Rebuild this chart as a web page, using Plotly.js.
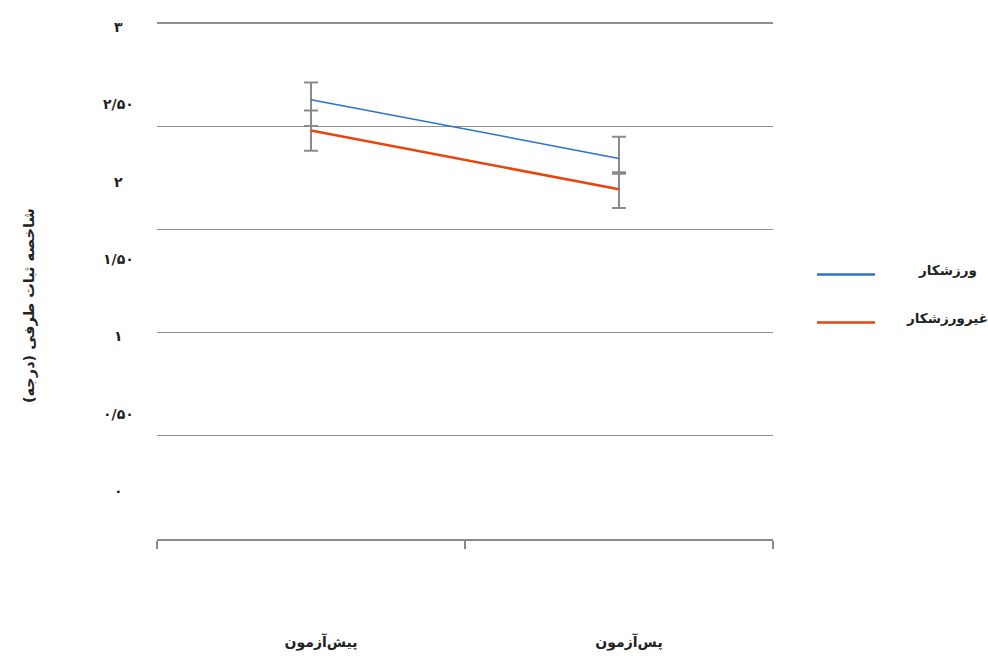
<!DOCTYPE html>
<html>
<head>
<meta charset="utf-8">
<script src="https://cdn.plot.ly/plotly-3.0.1.min.js"></script>
<style>html,body{margin:0;padding:0;background:#fff;}#chart{width:988px;height:656px;}</style>
</head>
<body>
<div id="chart"></div>
<script>
// ---- data ----
var categories = ['پیش\u200cآزمون', 'پس\u200cآزمون'];
var seriesNames = ['ورزشکار', 'غیرورزشکار'];
var athleteValues = [2.53, 2.15];
var athleteErrPlus = [0.11, 0.14];
var athleteErrMinus = [0.17, 0.10];
var nonAthleteValues = [2.33, 1.95];
var nonAthleteErrPlus = [0.13, 0.11];
var nonAthleteErrMinus = [0.13, 0.12];
var yTickValues = [0, 0.5, 1, 1.5, 2, 2.5, 3];
var yTickLabels = ['۰', '۰/۵۰', '۱', '۱/۵۰', '۲', '۲/۵۰', '۳'];
var gridValues = [1, 2, 3, 4, 5];
var yTitle = 'شاخصه ثبات طرفی (درجه)';

var colors = ['#2b72c8', '#e8450e'];
var widths = [1.5, 2.6];
var FONT = 'DejaVu Sans, sans-serif';
var errColor = '#8a8a8a';

function errObj(plus, minus) {
  return {type: 'data', symmetric: false, array: plus, arrayminus: minus,
          color: errColor, thickness: 2, width: 7};
}

var traces = [
  {x: [], y: [], yaxis: 'y2', showlegend: false, hoverinfo: 'skip', type: 'scatter'},
  {x: categories, y: athleteValues, name: seriesNames[0], type: 'scatter', mode: 'lines',
   line: {color: colors[0], width: widths[0]}, error_y: errObj(athleteErrPlus, athleteErrMinus)},
  {x: categories, y: nonAthleteValues, name: seriesNames[1], type: 'scatter', mode: 'lines',
   line: {color: colors[1], width: widths[1]}, error_y: errObj(nonAthleteErrPlus, nonAthleteErrMinus)}
];

var annotations = [];
yTickValues.forEach(function (v, i) {
  annotations.push({xref: 'paper', yref: 'y', x: -0.0633, y: v, text: yTickLabels[i],
    showarrow: false, xanchor: 'center', yanchor: 'middle',
    font: {family: FONT, size: 14, color: '#222', weight: 'bold'}});
});
annotations.push({xref: 'paper', yref: 'paper', x: -0.206, y: 0.4507, text: yTitle,
  textangle: -90, showarrow: false, xanchor: 'center', yanchor: 'middle',
  font: {family: FONT, size: 14.5, color: '#222', weight: 'bold'}});

var legendLineY = [0.5116, 0.4189];
var shapes = [];
seriesNames.forEach(function (n, i) {
  shapes.push({type: 'line', xref: 'paper', yref: 'paper', x0: 1.0714, x1: 1.1656,
    y0: legendLineY[i], y1: legendLineY[i], line: {color: colors[i], width: 2.5}});
  annotations.push({xref: 'paper', yref: 'paper', x: 1.2825, y: legendLineY[i] + 0.008, text: n,
    showarrow: false, xanchor: 'center', yanchor: 'middle',
    font: {family: FONT, size: 13.5, color: '#222', weight: 'bold'}});
});

var layout = {
  width: 988, height: 656,
  margin: {l: 157, r: 215, t: 22, b: 117},
  paper_bgcolor: '#ffffff', plot_bgcolor: '#ffffff',
  showlegend: false,
  font: {family: FONT, size: 14, color: '#222'},
  xaxis: {type: 'category', range: [-0.5, 1.5], tickson: 'boundaries', ticks: 'outside',
    ticklen: 8, tickwidth: 1.5, tickcolor: '#8a8a8a', showline: true, linecolor: '#8a8a8a',
    linewidth: 1.5, showgrid: false, zeroline: false, ticklabelstandoff: 90, ticklabelshift: 10,
    tickfont: {family: FONT, size: 14, color: '#222', weight: 'bold'}, fixedrange: true},
  yaxis: {range: [-0.311, 3.032], showgrid: false, zeroline: false, showline: false,
    showticklabels: false, ticks: '', fixedrange: true},
  yaxis2: {overlaying: 'y', anchor: 'x', side: 'left', range: [0, 5.01], tickvals: gridValues,
    showticklabels: false, ticks: '', showgrid: true, gridcolor: '#8f8f8f', gridwidth: 1.3,
    zeroline: false, showline: false, fixedrange: true},
  annotations: annotations,
  shapes: shapes
};

Plotly.newPlot('chart', traces, layout, {displayModeBar: false, staticPlot: true});
</script>
</body>
</html>
